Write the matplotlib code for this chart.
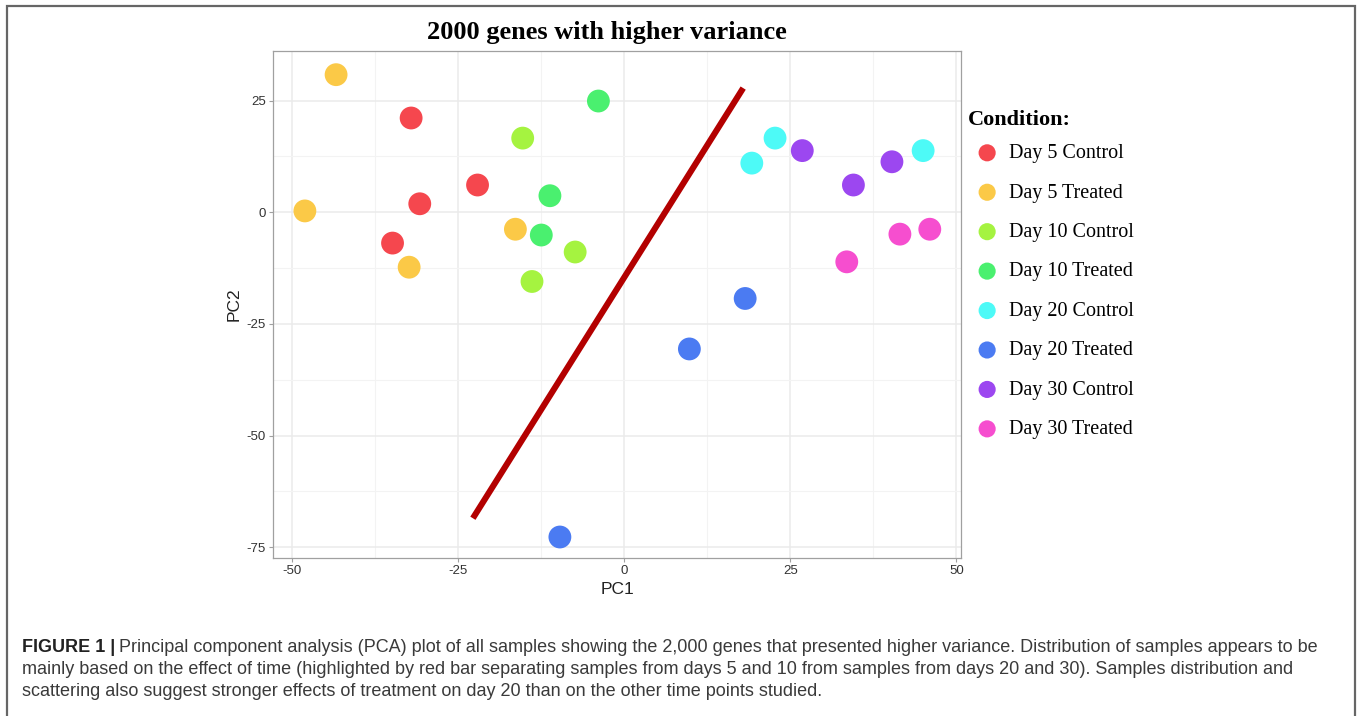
import matplotlib
matplotlib.use('Agg')
import matplotlib.pyplot as plt
from matplotlib.patches import Rectangle
import numpy as np

W, H = 1358, 716
plt.rcParams['axes.unicode_minus'] = False

# conditions and colours (legend order)
conditions = ['Day 5 Control', 'Day 5 Treated', 'Day 10 Control', 'Day 10 Treated',
              'Day 20 Control', 'Day 20 Treated', 'Day 30 Control', 'Day 30 Treated']
colors = ['#F5474E', '#FBC947', '#A5F340', '#4AF06F',
          '#4DFAF7', '#4B7BF2', '#9C47F0', '#F64ECF']

# samples
sample_condition = (['Day 5 Control'] * 4 + ['Day 5 Treated'] * 4 + ['Day 10 Control'] * 3 +
                    ['Day 10 Treated'] * 3 + ['Day 20 Control'] * 3 + ['Day 20 Treated'] * 3 +
                    ['Day 30 Control'] * 3 + ['Day 30 Treated'] * 3)
pc1 = [-32.1, -30.8, -22.1, -34.9,
       -43.4, -48.1, -32.4, -16.4,
       -15.3, -7.4, -13.9,
       -3.9, -11.2, -12.5,
       22.7, 19.2, 45.0,
       18.2, 9.8, -9.7,
       26.8, 34.5, 40.3,
       33.5, 41.5, 46.0]
pc2 = [21.1, 1.9, 6.1, -6.9,
       30.8, 0.3, -12.3, -3.8,
       16.6, -8.9, -15.5,
       24.9, 3.7, -5.1,
       16.6, 11.0, 13.8,
       -19.3, -30.6, -72.7,
       13.8, 6.1, 11.3,
       -11.1, -4.9, -3.8]

# red bar separating days 5/10 from 20/30
bar_x = [-22.8, 17.9]
bar_y = [-68.5, 27.8]

x_ticks = [-50, -25, 0, 25, 50]
y_ticks = [-75, -50, -25, 0, 25]

caption_bold = 'FIGURE 1 |'
caption_lines = [
    'Principal component analysis (PCA) plot of all samples showing the 2,000 genes that presented higher variance. Distribution of samples appears to be',
    'mainly based on the effect of time (highlighted by red bar separating samples from days 5 and 10 from samples from days 20 and 30). Samples distribution and',
    'scattering also suggest stronger effects of treatment on day 20 than on the other time points studied.',
]

serif = 'Liberation Serif'
sans = 'Liberation Sans'

fig = plt.figure(figsize=(W / 100, H / 100), dpi=100)
ax = fig.add_axes([273 / W, 1 - 558 / H, 688 / W, 507 / H])

pc1 = np.array(pc1)
pc2 = np.array(pc2)
cond = np.array(sample_condition)
for c, col in zip(conditions, colors):
    m = cond == c
    ax.scatter(pc1[m], pc2[m], s=270, color=col, edgecolors='none', label=c, zorder=3)

ax.plot(bar_x, bar_y, color='#B30000', lw=4.4, solid_capstyle='butt', zorder=2)

ax.set_xlim(-52.9, 50.7)
ax.set_ylim(-77.4, 36.1)
ax.set_xticks(x_ticks)
ax.set_yticks(y_ticks)
ax.set_xticks([-37.5, -12.5, 12.5, 37.5], minor=True)
ax.set_yticks([-62.5, -37.5, -12.5, 12.5], minor=True)
ax.grid(which='major', color='#EBEBEB', lw=1.1, zorder=0)
ax.grid(which='minor', color='#F3F3F3', lw=0.8, zorder=0)
ax.set_axisbelow(True)
for s in ax.spines.values():
    s.set_color('#A0A0A0')
    s.set_linewidth(0.9)
ax.tick_params(which='major', direction='out', length=3, width=0.8, color='#A0A0A0',
               labelsize=9.5, labelcolor='#333333', pad=2)
ax.tick_params(which='minor', length=0)
for lab in ax.get_xticklabels() + ax.get_yticklabels():
    lab.set_family(sans)
ax.set_xlabel('PC1', family=sans, fontsize=12.5, color='#222222', labelpad=4)
ax.set_ylabel('PC2', family=sans, fontsize=12.5, color='#222222', labelpad=4)

# legend: title as its own text, entries through ax.legend
fig.text(968 / W, 1 - 120 / H, 'Condition:', family=serif, weight='bold', fontsize=16,
         ha='left', va='center')
leg = ax.legend(loc='upper left', bbox_to_anchor=(968 / W, 1 - 144 / H),
                bbox_transform=fig.transFigure, frameon=False,
                prop={'family': serif, 'size': 14.5}, markerscale=0.75,
                handlelength=1.9, handletextpad=0.12, labelspacing=1.01,
                borderpad=0, borderaxespad=0)

fig.text(607 / W, 1 - 32 / H, '2000 genes with higher variance', ha='center', va='center',
         family=serif, weight='bold', fontsize=19, color='black')

# outer frame (open at the bottom of the picture)
fig.patches.append(Rectangle((7 / W, -0.05), 1348 / W, 1.05 - 6 / H, transform=fig.transFigure,
                             fill=False, edgecolor='#666666', lw=1.6))

# caption
cap_size = 13.0
cap_color = '#3A3A3A'
ys = [648, 669.5, 691]
renderer = fig.canvas.get_renderer()
t0 = fig.text(22 / W, 1 - ys[0] / H, caption_bold, family=sans, weight='bold', fontsize=cap_size,
              color='#222222', va='center', ha='left')
w0 = t0.get_window_extent(renderer).width
fig.text((22 + w0 + 4) / W, 1 - ys[0] / H, caption_lines[0], family=sans, fontsize=cap_size,
         color=cap_color, va='center', ha='left')
for line, y in zip(caption_lines[1:], ys[1:]):
    fig.text(22 / W, 1 - y / H, line, family=sans, fontsize=cap_size, color=cap_color,
             va='center', ha='left')

fig.savefig('out.png', dpi=100)
